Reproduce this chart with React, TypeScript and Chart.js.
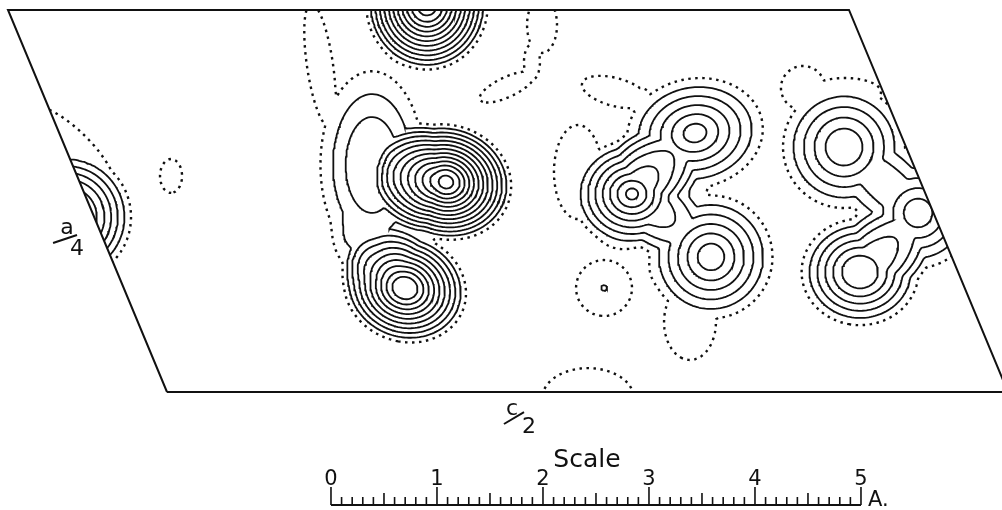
import React, { useEffect, useRef } from 'react';
import { Chart, registerables } from 'chart.js';

Chart.register(...registerables);

const CANVAS_W = 1002;
const CANVAS_H = 510;

// Plot window in Ångström, origin at the lower-left corner of the cell
const xRange = [-1.5755, 7.8774];
const yRange = [-1.1132, 3.6981];

// Cell outline: c/2 along the bottom edge, a/4 along the slanted edge (Å)
const cellCorners: [number, number][] = [
  [0, 0],
  [7.934, 0],
  [6.434, 3.604],
  [-1.5, 3.604],
];

// Density peaks read from the map: position (Å), height (contour intervals),
// ring spacing (Å per interval), flat core radius (Å), ellipse aspect, tilt (deg)
const peakName = ['top', 'big', 'plateau', 'lower', 'mid-top', 'mid-left', 'mid-low', 'small', 'right-top', 'right-edge', 'right-low', 'a/4 edge', 'bridge'];
const peakX = [2.453, 2.632, 1.934, 2.245, 4.981, 4.387, 5.132, 4.123, 6.387, 7.085, 6.538, -0.943, 1.726];
const peakY = [3.651, 1.981, 2.142, 0.981, 2.443, 1.868, 1.274, 0.981, 2.311, 1.689, 1.132, 1.651, 1.34];
const peakHeight = [12.5, 13.5, 3.8, 11.0, 6.5, 8.5, 6.5, 2.15, 5.5, 5.5, 6.5, 6.5, 0.9];
const peakSpacing = [0.0434, 0.0412, 0.16, 0.0472, 0.0943, 0.066, 0.0896, 0.226, 0.099, 0.094, 0.0708, 0.0623, 0.236];
const peakCore = [0.0915, 0.0632, 0.2075, 0.0708, 0.0566, 0.033, 0.0873, 0.004, 0.13, 0.094, 0.136, 0.261, 0.094];
const peakAspect = [0.94, 1.15, 0.55, 1.16, 1.25, 1.1, 1.0, 1.0, 1.0, 1.0, 1.1, 1.0, 0.7];
const peakRotation = [0, -15, 0, -20, 10, 0, 0, 0, 0, 0, 0, 0, 0];

// Weak lobes that only push the dashed zero contour outwards: position, radius (Å), aspect, tilt
const lobeName = ['a/4 lobe', 'dot', 'bottom bump', 'tongue a', 'tongue c', 'tongue b', 'hook', 'neck', 'mid-left', 'mid-low', 'right corner', 'right top', 'channel'];
const lobeX = [-0.915, 0.038, 3.972, 3.538, 3.443, 3.208, 4.226, 4.462, 3.877, 4.934, 6.0, 6.396, 1.443];
const lobeY = [2.264, 2.038, -0.057, 3.462, 3.113, 2.877, 2.83, 2.755, 2.075, 0.66, 2.868, 2.83, 3.085];
const lobeRadius = [0.348, 0.129, 0.349, 0.193, 0.113, 0.163, 0.206, 0.113, 0.317, 0.296, 0.208, 0.212, 0.268];
const lobeAspect = [2.82, 0.65, 1.53, 0.536, 0.444, 3.0, 2.43, 1.0, 0.51, 0.684, 1.0, 2.57, 0.21];
const lobeRotation = [-45, 0, 0, 0, 0, 25, -15, 0, 0, 0, 0, 0, 8.3];

const backgroundLevel = 1;

// Contour levels: 0 is the dashed zero contour
const contourLevels = [0, 1, 2, 3, 4, 5, 6, 7, 8, 9, 10, 11, 12, 13];

// Scale bar (Å)
const scaleStartX = 1.547;
const scaleBaseY = -1.066;
const scaleLabels = ['0', '1', '2', '3', '4', '5'];
const scaleStep = 0.1;
const scaleDivisions = 50;

function smoothRamp(t: number) {
  const d = 0.2;
  if (t >= d) return t;
  if (t <= -d) return 0;
  return ((t + d) * (t + d)) / (4 * d);
}

function ellipseDist(dx: number, dy: number, aspect: number, rotDeg: number) {
  const ex = Math.sqrt(aspect);
  const ey = 1 / ex;
  const th = (rotDeg * Math.PI) / 180;
  const cs = Math.cos(th);
  const sn = Math.sin(th);
  const u = dx * cs + dy * sn;
  const v = -dx * sn + dy * cs;
  return Math.hypot(u / ex, v / ey);
}

function buildField(nx: number, ny: number, x0: number, y0: number, h: number) {
  const strong = new Float64Array(nx * ny);
  const weak = new Float64Array(nx * ny);
  const w = 0.028;
  for (let p = 0; p < peakX.length; p++) {
    const ex = Math.sqrt(peakAspect[p]);
    const big = Math.max(ex, 1 / ex);
    const ext = (peakCore[p] + (peakHeight[p] + 0.3) * peakSpacing[p] + 0.1) * big;
    const i0 = Math.max(0, Math.floor((peakX[p] - ext - x0) / h));
    const i1 = Math.min(nx - 1, Math.ceil((peakX[p] + ext - x0) / h));
    const j0 = Math.max(0, Math.floor((peakY[p] - ext - y0) / h));
    const j1 = Math.min(ny - 1, Math.ceil((peakY[p] + ext - y0) / h));
    for (let j = j0; j <= j1; j++) {
      for (let i = i0; i <= i1; i++) {
        const q = ellipseDist(x0 + i * h - peakX[p], y0 + j * h - peakY[p], peakAspect[p], peakRotation[p]);
        const z = (q - peakCore[p]) / w;
        const reff = z > 30 ? q - peakCore[p] : w * Math.log(1 + Math.exp(z));
        strong[j * nx + i] += smoothRamp(peakHeight[p] - reff / peakSpacing[p]);
      }
    }
  }
  const ul = 0.0943;
  for (let p = 0; p < lobeX.length; p++) {
    const ex = Math.sqrt(lobeAspect[p]);
    const big = Math.max(ex, 1 / ex);
    const ext = (lobeRadius[p] + 0.15) * big;
    const i0 = Math.max(0, Math.floor((lobeX[p] - ext - x0) / h));
    const i1 = Math.min(nx - 1, Math.ceil((lobeX[p] + ext - x0) / h));
    const j0 = Math.max(0, Math.floor((lobeY[p] - ext - y0) / h));
    const j1 = Math.min(ny - 1, Math.ceil((lobeY[p] + ext - y0) / h));
    for (let j = j0; j <= j1; j++) {
      for (let i = i0; i <= i1; i++) {
        const q = ellipseDist(x0 + i * h - lobeX[p], y0 + j * h - lobeY[p], lobeAspect[p], lobeRotation[p]);
        const g = Math.min(1.9, 1 + (lobeRadius[p] - q) / ul);
        const k = j * nx + i;
        if (g > weak[k]) weak[k] = g;
      }
    }
  }
  const field = new Float64Array(nx * ny);
  for (let k = 0; k < field.length; k++) field[k] = Math.max(strong[k], weak[k]) - backgroundLevel;
  return field;
}

function traceContours(f: Float64Array, nx: number, ny: number, x0: number, y0: number, h: number, L: number) {
  const segA: number[] = [];
  const segB: number[] = [];
  const add = (p: number, q: number) => {
    segA.push(p);
    segB.push(q);
  };
  for (let j = 0; j < ny - 1; j++) {
    for (let i = 0; i < nx - 1; i++) {
      const a = f[j * nx + i];
      const b = f[j * nx + i + 1];
      const c = f[(j + 1) * nx + i + 1];
      const d = f[(j + 1) * nx + i];
      let idx = 0;
      if (a > L) idx |= 1;
      if (b > L) idx |= 2;
      if (c > L) idx |= 4;
      if (d > L) idx |= 8;
      if (idx === 0 || idx === 15) continue;
      const eB = 2 * (j * nx + i);
      const eR = 2 * (j * nx + i + 1) + 1;
      const eT = 2 * ((j + 1) * nx + i);
      const eL = 2 * (j * nx + i) + 1;
      switch (idx) {
        case 1: case 14: add(eL, eB); break;
        case 2: case 13: add(eB, eR); break;
        case 3: case 12: add(eL, eR); break;
        case 4: case 11: add(eR, eT); break;
        case 6: case 9: add(eB, eT); break;
        case 7: case 8: add(eL, eT); break;
        case 5: {
          const m = (a + b + c + d) / 4;
          if (m > L) { add(eB, eR); add(eL, eT); } else { add(eL, eB); add(eR, eT); }
          break;
        }
        case 10: {
          const m = (a + b + c + d) / 4;
          if (m > L) { add(eL, eB); add(eR, eT); } else { add(eB, eR); add(eL, eT); }
          break;
        }
      }
    }
  }
  const pt = (e: number) => {
    const node = e >> 1;
    const i = node % nx;
    const j = (node - i) / nx;
    const f0 = f[node];
    if ((e & 1) === 0) {
      const f1 = f[node + 1];
      const t = (L - f0) / (f1 - f0);
      return { x: x0 + (i + t) * h, y: y0 + j * h };
    }
    const f1 = f[node + nx];
    const t = (L - f0) / (f1 - f0);
    return { x: x0 + i * h, y: y0 + (j + t) * h };
  };
  const adj = new Map<number, number[]>();
  for (let s = 0; s < segA.length; s++) {
    for (const e of [segA[s], segB[s]]) {
      let l = adj.get(e);
      if (!l) { l = []; adj.set(e, l); }
      l.push(s);
    }
  }
  const used = new Uint8Array(segA.length);
  const lines: { x: number; y: number }[][] = [];
  const step = (cur: number) => {
    const l = adj.get(cur)!;
    for (const t of l) {
      if (!used[t]) {
        used[t] = 1;
        return segA[t] === cur ? segB[t] : segA[t];
      }
    }
    return -1;
  };
  for (let s0 = 0; s0 < segA.length; s0++) {
    if (used[s0]) continue;
    used[s0] = 1;
    const fwd = [segA[s0], segB[s0]];
    let closed = false;
    let cur = segB[s0];
    for (;;) {
      const n = step(cur);
      if (n < 0) break;
      fwd.push(n);
      cur = n;
      if (n === fwd[0]) { closed = true; break; }
    }
    const back: number[] = [];
    if (!closed) {
      cur = segA[s0];
      for (;;) {
        const n = step(cur);
        if (n < 0) break;
        back.push(n);
        cur = n;
      }
    }
    const ids = back.reverse().concat(fwd);
    lines.push(ids.map(pt));
  }
  return lines;
}

const cellClip = {
  id: 'cellClip',
  beforeDatasetDraw(chart: any, args: any) {
    const ds = chart.data.datasets[args.index];
    if (!ds.clipToCell) return;
    const xs = chart.scales.x;
    const ys = chart.scales.y;
    const ctx = chart.ctx;
    ctx.save();
    ctx.beginPath();
    cellCorners.forEach(([cx, cy], i) => {
      const px = xs.getPixelForValue(cx);
      const py = ys.getPixelForValue(cy);
      if (i === 0) ctx.moveTo(px, py); else ctx.lineTo(px, py);
    });
    ctx.closePath();
    ctx.clip();
  },
  afterDatasetDraw(chart: any, args: any) {
    const ds = chart.data.datasets[args.index];
    if (ds.clipToCell) chart.ctx.restore();
  },
};

const whiteBackground = {
  id: 'whiteBackground',
  beforeDraw(chart: any) {
    const ctx = chart.ctx;
    ctx.save();
    ctx.fillStyle = '#ffffff';
    ctx.fillRect(0, 0, chart.width, chart.height);
    ctx.restore();
  },
};

const FONT = '"DejaVu Sans", "Liberation Sans", sans-serif';

const labelsPlugin = {
  id: 'labels',
  afterDraw(chart: any) {
    const ctx = chart.ctx;
    const xs = chart.scales.x;
    const ys = chart.scales.y;
    const X = (v: number) => xs.getPixelForValue(v);
    const Y = (v: number) => ys.getPixelForValue(v);
    ctx.save();
    ctx.fillStyle = '#111';
    ctx.strokeStyle = '#111';
    ctx.textAlign = 'center';
    ctx.font = `25px ${FONT}`;
    ctx.textBaseline = 'middle';
    ctx.fillText('Scale', X(3.962), Y(-0.642));
    ctx.font = `21px ${FONT}`;
    ctx.textBaseline = 'alphabetic';
    scaleLabels.forEach((lab, i) => {
      ctx.fillText(lab, X(scaleStartX + i), Y(scaleBaseY) - 20);
    });
    ctx.textAlign = 'left';
    ctx.font = `21px ${FONT}`;
    ctx.fillText('A.', X(scaleStartX + 5) + 7, Y(scaleBaseY) + 1);
    ctx.textAlign = 'center';
    ctx.textBaseline = 'middle';
    ctx.font = `22px ${FONT}`;
    ctx.fillText('c', X(3.255), Y(-0.16));
    ctx.fillText('2', X(3.415), Y(-0.33));
    ctx.lineWidth = 2;
    ctx.beginPath();
    ctx.moveTo(X(3.179), Y(-0.302));
    ctx.lineTo(X(3.368), Y(-0.189));
    ctx.stroke();
    ctx.fillText('a', X(-0.943), Y(1.547));
    ctx.fillText('4', X(-0.849), Y(1.349));
    ctx.beginPath();
    ctx.moveTo(X(-1.075), Y(1.406));
    ctx.lineTo(X(-0.849), Y(1.481));
    ctx.stroke();
    ctx.restore();
  },
};

function buildDatasets() {
  const x0 = -1.6;
  const y0 = -0.16;
  const h = 0.02;
  const nx = Math.ceil((7.92 - x0) / h) + 1;
  const ny = Math.ceil((3.76 - y0) / h) + 1;
  const field = buildField(nx, ny, x0, y0, h);
  const datasets: any[] = [];
  for (const level of contourLevels) {
    const lines = traceContours(field, nx, ny, x0, y0, h, level);
    for (const pts of lines) {
      if (pts.length < 3) continue;
      datasets.push({
        data: pts,
        showLine: true,
        pointRadius: 0,
        borderColor: '#111',
        borderWidth: level === 0 ? 2.4 : 1.8,
        borderDash: level === 0 ? [2.5, 4.5] : [],
        tension: 0,
        clipToCell: true,
      });
    }
  }
  datasets.push({
    data: [...cellCorners, cellCorners[0]].map(([x, y]) => ({ x, y })),
    showLine: true,
    pointRadius: 0,
    borderColor: '#111',
    borderWidth: 2,
    tension: 0,
  });
  datasets.push({
    data: [
      { x: scaleStartX, y: scaleBaseY },
      { x: scaleStartX + scaleDivisions * scaleStep, y: scaleBaseY },
    ],
    showLine: true,
    pointRadius: 0,
    borderColor: '#111',
    borderWidth: 2,
  });
  const tickPts: { x: number; y: number | null }[] = [];
  for (let k = 0; k <= scaleDivisions; k++) {
    const x = scaleStartX + k * scaleStep;
    const len = k % 10 === 0 ? 0.17 : k % 5 === 0 ? 0.113 : 0.075;
    tickPts.push({ x, y: scaleBaseY }, { x, y: scaleBaseY + len }, { x, y: null });
  }
  datasets.push({
    data: tickPts,
    showLine: true,
    pointRadius: 0,
    borderColor: '#111',
    borderWidth: 1.6,
    spanGaps: false,
  });
  return datasets;
}

export default function App() {
  const canvasRef = useRef<HTMLCanvasElement | null>(null);
  useEffect(() => {
    if (!canvasRef.current) return;
    const chart = new Chart(canvasRef.current, {
      type: 'scatter',
      data: { datasets: buildDatasets() },
      options: {
        animation: false,
        responsive: false,
        events: [],
        layout: { padding: 0 },
        plugins: { legend: { display: false }, tooltip: { enabled: false } },
        scales: {
          x: { type: 'linear', min: xRange[0], max: xRange[1], display: false },
          y: { type: 'linear', min: yRange[0], max: yRange[1], display: false },
        },
      },
      plugins: [whiteBackground, cellClip, labelsPlugin],
    } as any);
    return () => chart.destroy();
  }, []);
  return (
    <div style={{ position: 'fixed', left: 0, top: 0, width: CANVAS_W, height: CANVAS_H, background: '#fff' }}>
      <canvas ref={canvasRef} width={CANVAS_W} height={CANVAS_H} style={{ display: 'block' }} />
    </div>
  );
}
